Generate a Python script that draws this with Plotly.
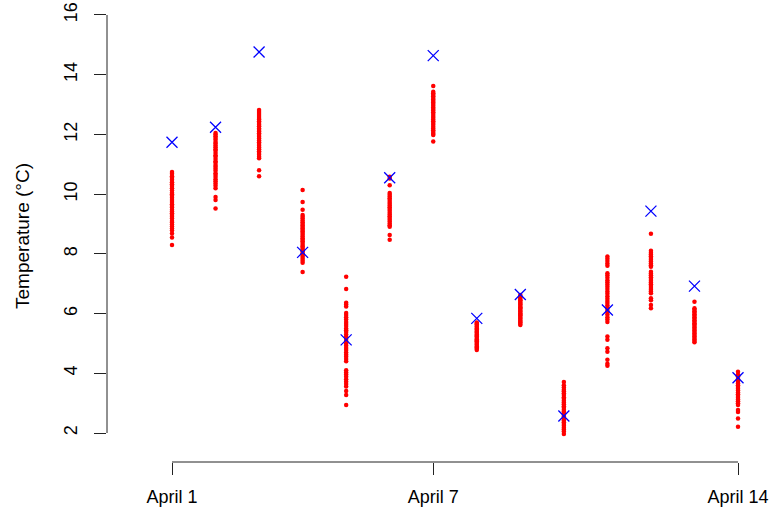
import plotly.graph_objects as go

days = list(range(1, 15))
tick_vals = [1, 7, 14]
tick_text = ["April 1", "April 7", "April 14"]
y_ticks = [2, 4, 6, 8, 10, 12, 14, 16]

observed = [11.74, 12.24, 14.76, 8.05, 5.12, 10.55, 14.64, 5.84, 6.64, 2.57, 6.12, 9.43, 6.92, 3.85]

ens_d1 = [10.74, 10.68, 10.6, 10.55, 10.48, 10.4, 10.33, 10.27, 10.2, 10.12, 10.05, 10.0, 9.95, 9.88,
          9.8, 9.74, 9.66, 9.6, 9.55, 9.48, 9.42, 9.36, 9.3, 9.24, 9.18, 9.1, 9.05, 8.98, 8.92, 8.85,
          8.78, 8.68, 8.55, 8.30]
ens_d2 = [12.05, 12.0, 11.94, 11.88, 11.82, 11.75, 11.7, 11.63, 11.57, 11.5, 11.45, 11.38, 11.3, 11.25,
          11.18, 11.1, 11.05, 10.98, 10.92, 10.85, 10.78, 10.7, 10.64, 10.57, 10.5, 10.43, 10.36, 10.28,
          10.2, 9.9, 9.8, 9.52]
ens_d3 = [12.82, 12.75, 12.68, 12.62, 12.55, 12.5, 12.44, 12.38, 12.32, 12.27, 12.2, 12.15, 12.1, 12.04,
          11.98, 11.92, 11.86, 11.8, 11.74, 11.68, 11.62, 11.56, 11.5, 11.44, 11.38, 11.32, 11.25, 11.2,
          10.8, 10.6]
ens_d4 = [10.14, 9.74, 9.48, 9.3, 9.24, 9.18, 9.12, 9.06, 9.0, 8.95, 8.9, 8.85, 8.8, 8.75, 8.7, 8.64,
          8.58, 8.52, 8.47, 8.42, 8.36, 8.3, 8.25, 8.2, 8.14, 8.08, 8.02, 7.96, 7.9, 7.84, 7.77, 7.7, 7.39]
ens_d5 = [7.23, 6.82, 6.36, 6.3, 6.24, 6.02, 5.95, 5.88, 5.8, 5.72, 5.65, 5.58, 5.5, 5.44, 5.38, 5.3,
          5.22, 5.15, 5.08, 5.0, 4.92, 4.85, 4.78, 4.7, 4.62, 4.55, 4.48, 4.4, 4.1, 4.03, 3.96, 3.88,
          3.8, 3.72, 3.64, 3.56, 3.41, 3.27, 2.94]
ens_d6 = [10.58, 10.52, 10.3, 10.04, 9.98, 9.92, 9.86, 9.8, 9.74, 9.68, 9.62, 9.56, 9.5, 9.44, 9.38,
          9.32, 9.26, 9.2, 9.14, 9.08, 9.02, 8.96, 8.91, 8.63, 8.47]
ens_d7 = [13.62, 13.43, 13.38, 13.33, 13.28, 13.22, 13.17, 13.12, 13.07, 13.02, 12.96, 12.9, 12.85,
          12.8, 12.74, 12.68, 12.62, 12.56, 12.5, 12.44, 12.38, 12.32, 12.26, 12.2, 12.14, 12.08, 12.02,
          11.98, 11.76]
ens_d8 = [5.7, 5.66, 5.63, 5.58, 5.55, 5.5, 5.47, 5.42, 5.38, 5.35, 5.3, 5.26, 5.23, 5.18, 5.14, 5.1,
          5.07, 5.02, 4.98, 4.95, 4.9, 4.86, 4.82, 4.78]
ens_d9 = [6.62, 6.57, 6.54, 6.49, 6.45, 6.42, 6.37, 6.33, 6.3, 6.25, 6.21, 6.18, 6.13, 6.09, 6.06, 6.01,
          5.97, 5.94, 5.89, 5.85, 5.82, 5.77, 5.73, 5.7, 5.65, 5.62]
ens_d10 = [3.71, 3.6, 3.52, 3.45, 3.4, 3.33, 3.27, 3.2, 3.15, 3.08, 3.02, 2.96, 2.9, 2.85, 2.78, 2.72,
           2.66, 2.6, 2.55, 2.48, 2.42, 2.36, 2.3, 2.24, 2.18, 2.12, 2.05, 1.97]
ens_d11 = [7.91, 7.84, 7.76, 7.68, 7.6, 7.35, 7.28, 7.2, 7.12, 7.05, 6.97, 6.9, 6.82, 6.74, 6.66, 6.58,
           6.5, 6.42, 6.35, 6.28, 6.2, 6.12, 6.05, 5.97, 5.88, 5.8, 5.72, 5.23, 5.12, 4.84, 4.72, 4.45,
           4.32, 4.25]
ens_d12 = [8.67, 8.1, 8.04, 7.98, 7.92, 7.86, 7.8, 7.74, 7.68, 7.62, 7.57, 7.4, 7.34, 7.28, 7.22, 7.16,
           7.1, 7.04, 6.98, 6.92, 6.86, 6.8, 6.74, 6.68, 6.51, 6.45, 6.29, 6.18]
ens_d13 = [6.4, 6.18, 6.13, 6.08, 6.03, 5.98, 5.93, 5.88, 5.83, 5.78, 5.73, 5.68, 5.63, 5.58, 5.53, 5.48,
           5.43, 5.38, 5.33, 5.28, 5.23, 5.18, 5.13, 5.08, 5.04]
ens_d14 = [4.05, 3.96, 3.9, 3.84, 3.78, 3.72, 3.66, 3.6, 3.54, 3.48, 3.42, 3.36, 3.3, 3.24, 3.18, 3.12,
           3.06, 3.0, 2.94, 2.77, 2.7, 2.49, 2.21]

ensembles = [ens_d1, ens_d2, ens_d3, ens_d4, ens_d5, ens_d6, ens_d7,
             ens_d8, ens_d9, ens_d10, ens_d11, ens_d12, ens_d13, ens_d14]

ex, ey = [], []
for d, vals in zip(days, ensembles):
    ex.extend([d] * len(vals))
    ey.extend(vals)

FONT = "Liberation Sans, Arial, Helvetica, sans-serif"
AXC = "#222222"
FS = 18

fig = go.Figure()
fig.add_trace(go.Scatter(x=ex, y=ey, mode="markers",
                         marker=dict(color="red", size=4.5, line=dict(width=0)),
                         showlegend=False, hoverinfo="skip"))
fig.add_trace(go.Scatter(x=days, y=observed, mode="markers",
                         marker=dict(symbol="x-thin-open", color="blue", size=11,
                                     line=dict(color="blue", width=1.3)),
                         showlegend=False))

fig.update_layout(
    width=774, height=513,
    margin=dict(l=107, r=14, t=10, b=51),
    paper_bgcolor="white", plot_bgcolor="white",
    font=dict(family=FONT, size=FS, color="black"),
    xaxis=dict(range=[-0.493, 14.505], tickmode="array", tickvals=tick_vals, ticktext=tick_text,
               showgrid=False, zeroline=False, showline=False, automargin=False,
               ticks="outside", ticklen=12, tickcolor=AXC, tickwidth=1,
               ticklabelstandoff=6, tickfont=dict(size=FS)),
    yaxis=dict(range=[1.029, 16.167], tickmode="array", tickvals=y_ticks,
               showgrid=False, zeroline=False, showline=False, automargin=False,
               ticks="outside", ticklen=12, tickcolor=AXC, tickwidth=1,
               tickangle=-90, ticklabelstandoff=10, tickfont=dict(size=FS),
               title=dict(text="Temperature (°C)", font=dict(size=19), standoff=26)),
)

# axis lines spanning first to last tick (R-style)
fig.add_shape(type="line", xref="x", yref="paper", x0=tick_vals[0], x1=tick_vals[-1], y0=0, y1=0,
              line=dict(color=AXC, width=1))
fig.add_shape(type="line", xref="paper", yref="y", x0=0, x1=0, y0=y_ticks[0], y1=y_ticks[-1],
              line=dict(color=AXC, width=1))

fig.write_html("out.html")
